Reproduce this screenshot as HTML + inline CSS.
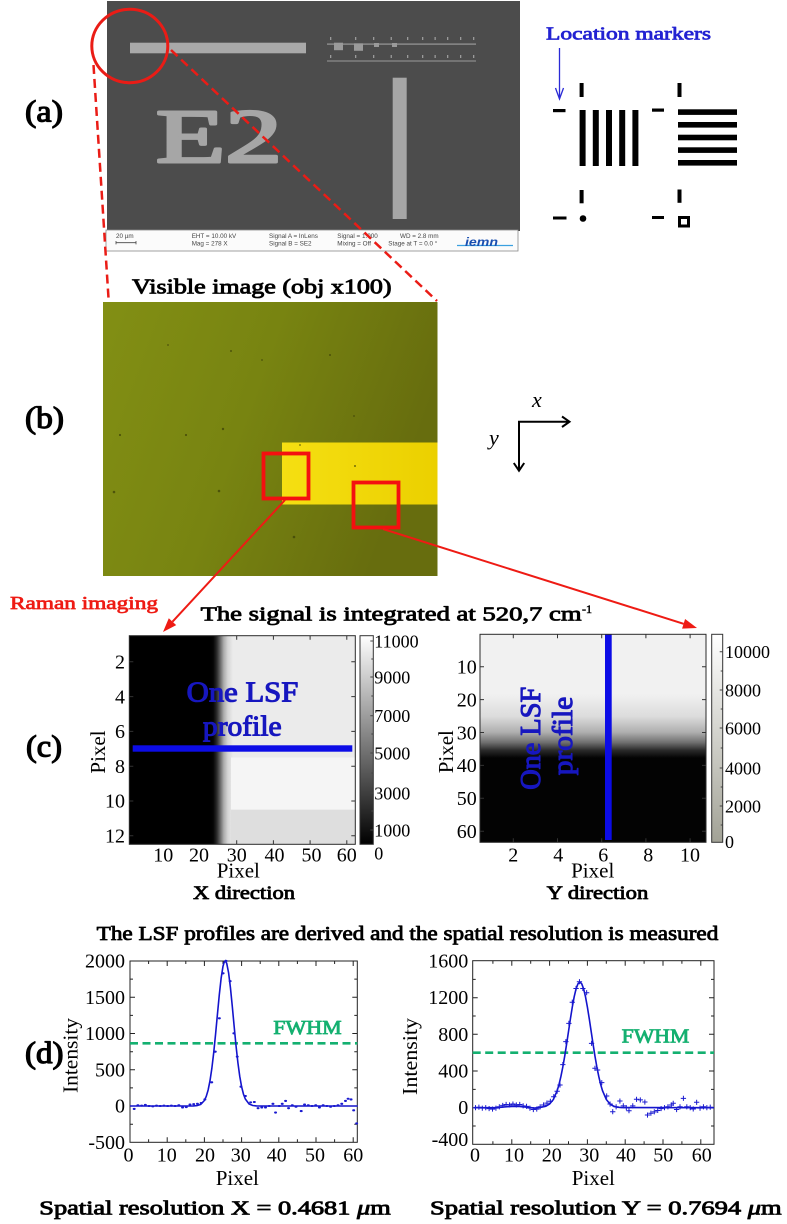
<!DOCTYPE html>
<html><head><meta charset="utf-8"><style>
html,body{margin:0;padding:0;background:#fff}
svg{display:block}
text{font-family:"Liberation Serif",serif}
.sem{font-family:"Liberation Sans",sans-serif;font-size:6.3px;fill:#444}
</style></head><body>
<svg width="787" height="1224" viewBox="0 0 787 1224" xmlns="http://www.w3.org/2000/svg">
<defs>
 <linearGradient id="olive" x1="0" y1="0" x2="1" y2="0.3">
  <stop offset="0" stop-color="#828f14"/>
  <stop offset="0.5" stop-color="#788411"/>
  <stop offset="1" stop-color="#676d0e"/>
 </linearGradient>
 <linearGradient id="yel" x1="0" y1="0" x2="1" y2="0">
  <stop offset="0" stop-color="#f5df12"/>
  <stop offset="1" stop-color="#ebd000"/>
 </linearGradient>
 <linearGradient id="gx" gradientUnits="userSpaceOnUse" x1="210" y1="0" x2="233" y2="0">
  <stop offset="0" stop-color="#000"/>
  <stop offset="0.15" stop-color="#060606"/>
  <stop offset="0.3" stop-color="#2c2c2c"/>
  <stop offset="0.45" stop-color="#6a6a6a"/>
  <stop offset="0.6" stop-color="#acacac"/>
  <stop offset="0.78" stop-color="#d6d6d6"/>
  <stop offset="1" stop-color="#ebebeb"/>
 </linearGradient>
 <linearGradient id="gy" gradientUnits="userSpaceOnUse" x1="0" y1="694" x2="0" y2="758">
  <stop offset="0" stop-color="#f1f1f1"/>
  <stop offset="0.35" stop-color="#dcdcdc"/>
  <stop offset="0.6" stop-color="#aeaeae"/>
  <stop offset="0.76" stop-color="#6e6e6e"/>
  <stop offset="0.88" stop-color="#2a2a2a"/>
  <stop offset="1" stop-color="#030303"/>
 </linearGradient>
 <linearGradient id="cb1" x1="0" y1="1" x2="0" y2="0">
  <stop offset="0" stop-color="#000"/>
  <stop offset="1" stop-color="#fff"/>
 </linearGradient>
 <linearGradient id="cb2" x1="0" y1="1" x2="0" y2="0">
  <stop offset="0" stop-color="#a2a296"/>
  <stop offset="1" stop-color="#ffffff"/>
 </linearGradient>
</defs>

<!-- ============ (a) SEM image ============ -->
<rect x="107" y="1" width="413" height="230" fill="#4c4c4c"/>
<rect x="130" y="42.7" width="176" height="10.6" fill="#a9a9a9"/>
<rect x="392.7" y="77.7" width="14" height="141.3" fill="#a6a6a6"/>
<text x="156" y="162" font-size="76" style="fill:#a6a6a6;stroke:#a6a6a6;stroke-width:3px;stroke-linejoin:round" textLength="126" lengthAdjust="spacingAndGlyphs">E2</text>
<!-- small pattern -->
<g fill="#9a9a9a">
 <rect x="334" y="42.7" width="9" height="7.5"/>
 <rect x="354" y="43.3" width="9" height="7.5"/>
 <rect x="374" y="43" width="5" height="4"/>
 <rect x="392" y="43" width="5" height="4"/>
 <rect x="327" y="43.5" width="149" height="1.2"/>
 <rect x="330" y="37" width="1.3" height="3"/><rect x="355" y="37" width="1.3" height="3"/><rect x="373" y="37" width="1.3" height="3"/><rect x="390.6" y="37" width="1.3" height="3"/><rect x="407" y="37" width="1.3" height="3"/><rect x="422" y="37" width="1.3" height="3"/><rect x="434.5" y="37" width="1.3" height="3"/><rect x="447" y="37" width="1.3" height="3"/><rect x="460" y="37" width="1.3" height="3"/><rect x="473" y="37" width="1.3" height="3"/>
 <rect x="330" y="55" width="1.3" height="3"/><rect x="355" y="55" width="1.3" height="3"/><rect x="373" y="55" width="1.3" height="3"/><rect x="390.6" y="55" width="1.3" height="3"/><rect x="407" y="55" width="1.3" height="3"/><rect x="422" y="55" width="1.3" height="3"/><rect x="434.5" y="55" width="1.3" height="3"/><rect x="447" y="55" width="1.3" height="3"/><rect x="460" y="55" width="1.3" height="3"/><rect x="473" y="55" width="1.3" height="3"/>
 <rect x="327" y="60.5" width="149" height="1"/>
</g>
<!-- info bar -->
<rect x="106" y="230" width="412" height="21" fill="#fbfbfb" stroke="#8a8a8a" stroke-width="0.8"/>
<text class="sem" x="116" y="238">20 µm</text>
<path d="M116 242.7H136M116 241v3.4M136 241v3.4" stroke="#444" stroke-width="0.8" fill="none"/>
<text class="sem" x="191.7" y="238">EHT = 10.00 kV</text>
<text class="sem" x="191.7" y="245.5">Mag =    278 X</text>
<text class="sem" x="269" y="238">Signal A = InLens</text>
<text class="sem" x="269" y="245.5">Signal B = SE2</text>
<text class="sem" x="337.3" y="238">Signal = 1.000</text>
<text class="sem" x="337.3" y="245.5">Mixing = Off</text>
<text class="sem" x="400" y="238">WD =  2.8 mm</text>
<text class="sem" x="388.3" y="245.5">Stage at T =   0.0 °</text>
<path d="M457 245.5H513" stroke="#3aa0e0" stroke-width="1.2"/>
<text x="465" y="246" font-size="12" font-style="italic" font-weight="bold" fill="#1a4fb0" textLength="33" lengthAdjust="spacingAndGlyphs" style="font-family:'Liberation Sans',sans-serif">iemn</text>

<!-- (a) label -->
<text x="25" y="121.5" font-size="31" style="fill:#000;stroke:#000;stroke-width:1.2px;stroke-linejoin:round" textLength="38" lengthAdjust="spacingAndGlyphs">(a)</text>

<!-- Location markers -->
<text x="546" y="39.5" font-size="18" style="fill:#2222d2;stroke:#2222d2;stroke-width:0.75px;stroke-linejoin:round" textLength="165" lengthAdjust="spacingAndGlyphs">Location markers</text>
<path d="M559.5 48V99M555.5 88L559.5 99L563.5 88" stroke="#2a2ad6" stroke-width="1.3" fill="none"/>
<g fill="#000">
 <rect x="579.6" y="83" width="4" height="14"/>
 <rect x="677.5" y="83" width="4" height="14"/>
 <rect x="553" y="109" width="12.5" height="3.2"/>
 <rect x="652" y="108.5" width="12" height="3.2"/>
 <rect x="579.6" y="110" width="6" height="56"/>
 <rect x="592.8" y="110" width="6" height="56"/>
 <rect x="606" y="110" width="6" height="56"/>
 <rect x="619.2" y="110" width="6" height="56"/>
 <rect x="632.4" y="110" width="6" height="56"/>
 <rect x="678" y="109.3" width="59" height="5.6"/>
 <rect x="678" y="122" width="59" height="5.6"/>
 <rect x="678" y="134.7" width="59" height="5.6"/>
 <rect x="678" y="147.3" width="59" height="5.6"/>
 <rect x="678" y="160" width="59" height="5.6"/>
 <rect x="579.6" y="190" width="4" height="13.3"/>
 <rect x="677.5" y="189.5" width="4" height="13.3"/>
 <rect x="553" y="216.5" width="13.5" height="3"/>
 <rect x="652" y="216" width="12" height="3"/>
 <circle cx="583" cy="218.5" r="3.3"/>
</g>
<rect x="679.5" y="217.5" width="9" height="8.5" fill="none" stroke="#000" stroke-width="3"/>

<!-- ============ (b) ============ -->
<text x="132" y="293.5" font-size="21" style="fill:#000;stroke:#000;stroke-width:0.85px;stroke-linejoin:round" textLength="259.6" lengthAdjust="spacingAndGlyphs">Visible image (obj x100)</text>
<text x="25" y="428" font-size="31" style="fill:#000;stroke:#000;stroke-width:1.2px;stroke-linejoin:round" textLength="39" lengthAdjust="spacingAndGlyphs">(b)</text>
<rect x="103" y="302" width="334.5" height="274" fill="url(#olive)"/>
<rect x="282" y="442.5" width="155.5" height="62" fill="url(#yel)"/>
<g fill="#3a3e08" opacity="0.7">
 <circle cx="223" cy="429" r="1.2"/><circle cx="186" cy="435" r="1.1"/><circle cx="219" cy="491" r="1.3"/>
 <circle cx="231" cy="351" r="1"/><circle cx="330" cy="355" r="1"/><circle cx="262" cy="360" r="0.9"/>
 <circle cx="294" cy="537" r="1.3"/><circle cx="168" cy="345" r="0.9"/><circle cx="354" cy="416" r="0.9"/>
 <circle cx="300" cy="445" r="0.9"/><circle cx="355" cy="466" r="1"/><circle cx="114" cy="492" r="1.3"/><circle cx="120" cy="435" r="1.1"/>
</g>
<rect x="263.5" y="453.5" width="45" height="45" fill="none" stroke="#f41010" stroke-width="3.8"/>
<rect x="353.5" y="482.5" width="45" height="45" fill="none" stroke="#f41010" stroke-width="3.8"/>
<!-- red arrows -->
<path d="M285 500L172.5 621.7" stroke="#ee1b14" stroke-width="2"/>
<polygon points="163,632 176.2,625.1 168.8,618.3" fill="#ee1b14"/>
<path d="M383 529L683.6 623.8" stroke="#ee1b14" stroke-width="2"/>
<polygon points="697,628 682.1,628.6 685.1,619" fill="#ee1b14"/>

<!-- axes glyph -->
<path d="M569.5 421.7H519V470.7M562 416.5L569.5 421.7L562 427M513.8 463L519 470.7L524.2 463" stroke="#000" stroke-width="2" fill="none"/>
<text x="532" y="407" font-size="22" font-style="italic">x</text>
<text x="489" y="445" font-size="22" font-style="italic">y</text>

<!-- red ellipse & dashed lines -->
<ellipse cx="129.8" cy="46" rx="38" ry="36.7" fill="none" stroke="#ea1c16" stroke-width="3"/>
<path d="M93.5 65L108.5 298" stroke="#ea1c16" stroke-width="2.5" stroke-dasharray="9 5" fill="none"/>
<path d="M171 50L437 301" stroke="#ea1c16" stroke-width="2.5" stroke-dasharray="9 5" fill="none"/>

<!-- ============ (c) ============ -->
<text x="10" y="609" font-size="18" style="fill:#ee1b14;stroke:#ee1b14;stroke-width:0.7px;stroke-linejoin:round" textLength="148" lengthAdjust="spacingAndGlyphs">Raman imaging</text>
<text x="200.6" y="620.7" font-size="20" style="fill:#000;stroke:#000;stroke-width:0.8px;stroke-linejoin:round" textLength="381" lengthAdjust="spacingAndGlyphs">The signal is integrated at 520,7 cm</text>
<text x="582" y="613" font-size="12" style="fill:#000;stroke:#000;stroke-width:0.5px">-1</text>
<text x="26" y="756.5" font-size="31" style="fill:#000;stroke:#000;stroke-width:1.2px;stroke-linejoin:round" textLength="36" lengthAdjust="spacingAndGlyphs">(c)</text>

<!-- left heatmap -->
<rect x="129.3" y="635.7" width="226" height="208.6" fill="#000"/>
<rect x="210" y="635.7" width="145.3" height="208.6" fill="url(#gx)"/>
<rect x="231" y="757.5" width="124.3" height="52.2" fill="#f5f5f5"/>
<rect x="231" y="809.7" width="124.3" height="34.6" fill="#dedede"/>
<rect x="132.7" y="745.3" width="219.6" height="6.4" fill="#0c0ce6"/>
<text x="242.5" y="701.5" font-size="28" style="fill:#1717bf;stroke:#1717bf;stroke-width:1.1px;stroke-linejoin:round" text-anchor="middle" textLength="111.6" lengthAdjust="spacingAndGlyphs">One LSF</text>
<text x="242.3" y="735.7" font-size="28" style="fill:#1717bf;stroke:#1717bf;stroke-width:1.1px;stroke-linejoin:round" text-anchor="middle" textLength="78.7" lengthAdjust="spacingAndGlyphs">profile</text>
<rect x="129.3" y="635.7" width="226" height="208.6" fill="none" stroke="#2a2a2a" stroke-width="1"/>
<path d="M129.3 661.8h4M129.3 696.6h4M129.3 731.4h4M129.3 766.2h4M129.3 801h4M129.3 835.8h4M355.3 661.8h-4M355.3 696.6h-4M355.3 731.4h-4M355.3 766.2h-4M355.3 801h-4M355.3 835.8h-4M236.7 844.3v-4M273.4 844.3v-4M310.1 844.3v-4M346.8 844.3v-4M236.7 635.7v4M273.4 635.7v4M310.1 635.7v4M346.8 635.7v4" stroke="#333" stroke-width="1"/>
<g font-size="20" text-anchor="end">
 <text x="125" y="668.5">2</text><text x="125" y="703.3">4</text><text x="125" y="738.1">6</text><text x="125" y="772.9">8</text><text x="125" y="807.7">10</text><text x="125" y="842.5">12</text>
</g>
<g font-size="20" text-anchor="middle">
 <text x="163.3" y="861.7">10</text><text x="199" y="861.7">20</text><text x="236.7" y="861.7">30</text><text x="274.5" y="861.7">40</text><text x="311.5" y="861.7">50</text><text x="346.8" y="861.7">60</text>
</g>
<text x="238.3" y="877.5" font-size="21" text-anchor="middle">Pixel</text>
<text transform="translate(105 752) rotate(-90)" font-size="21" text-anchor="middle">Pixel</text>
<text x="244" y="899" font-size="19" style="fill:#000;stroke:#000;stroke-width:0.8px;stroke-linejoin:round" text-anchor="middle" textLength="102" lengthAdjust="spacingAndGlyphs">X direction</text>
<!-- left colorbar -->
<rect x="360" y="635.7" width="13.3" height="208.6" fill="url(#cb1)" stroke="#333" stroke-width="1"/>
<path d="M373.3 641h-3M373.3 677h-3M373.3 715.7h-3M373.3 753h-3M373.3 793h-3M373.3 830h-3M373.3 659h-2M373.3 696h-2M373.3 734h-2M373.3 773h-2M373.3 811h-2" stroke="#444" stroke-width="1"/>
<g font-size="18">
 <text x="374.3" y="647.3">11000</text><text x="374.3" y="683.3">9000</text><text x="374.3" y="722">7000</text><text x="374.3" y="759.3">5000</text><text x="374.3" y="799.3">3000</text><text x="374.3" y="836.3">1000</text><text x="374.3" y="859.3">0</text>
</g>

<!-- right heatmap -->
<rect x="480" y="634.3" width="226" height="208" fill="url(#gy)"/>
<rect x="605" y="634.3" width="6.7" height="205.7" fill="#0c0ce6"/>
<text transform="translate(540 738.3) rotate(-90)" font-size="28" style="fill:#1717bf;stroke:#1717bf;stroke-width:1.1px;stroke-linejoin:round" text-anchor="middle" textLength="103" lengthAdjust="spacingAndGlyphs">One LSF</text>
<text transform="translate(572 736) rotate(-90)" font-size="28" style="fill:#1717bf;stroke:#1717bf;stroke-width:1.1px;stroke-linejoin:round" text-anchor="middle" textLength="78.5" lengthAdjust="spacingAndGlyphs">profile</text>
<rect x="480" y="634.3" width="226" height="208" fill="none" stroke="#2a2a2a" stroke-width="1"/>
<path d="M480 666.7h4M480 699.6h4M480 732.5h4M480 765.4h4M480 798.3h4M480 831.2h4M706 666.7h-4M706 699.6h-4M706 732.5h-4M706 765.4h-4M706 798.3h-4M706 831.2h-4M513.3 634.3v4M557.5 634.3v4M601.7 634.3v4M645.9 634.3v4M690.1 634.3v4M513.3 842.3v-4M557.5 842.3v-4M601.7 842.3v-4M645.9 842.3v-4M690.1 842.3v-4" stroke="#333" stroke-width="1"/>
<g font-size="20" text-anchor="end">
 <text x="476.7" y="673.5">10</text><text x="476.7" y="706.4">20</text><text x="476.7" y="739.3">30</text><text x="476.7" y="772.2">40</text><text x="476.7" y="805.1">50</text><text x="476.7" y="838">60</text>
</g>
<g font-size="20" text-anchor="middle">
 <text x="513.3" y="861.7">2</text><text x="558.3" y="861.7">4</text><text x="603.3" y="861.7">6</text><text x="648.3" y="861.7">8</text><text x="690" y="861.7">10</text>
</g>
<text x="592.7" y="877.5" font-size="21" text-anchor="middle">Pixel</text>
<text transform="translate(453 751.7) rotate(-90)" font-size="21" text-anchor="middle">Pixel</text>
<text x="597.5" y="899" font-size="19" style="fill:#000;stroke:#000;stroke-width:0.8px;stroke-linejoin:round" text-anchor="middle" textLength="101.6" lengthAdjust="spacingAndGlyphs">Y direction</text>
<!-- right colorbar -->
<rect x="711.7" y="634.3" width="11" height="208" fill="url(#cb2)" stroke="#333" stroke-width="1"/>
<path d="M722.7 651.7h-3M722.7 690h-3M722.7 728h-3M722.7 768h-3M722.7 806h-3M722.7 671h-2M722.7 709h-2M722.7 748h-2M722.7 787h-2M722.7 825h-2" stroke="#444" stroke-width="1"/>
<g font-size="18">
 <text x="725" y="658">10000</text><text x="725" y="696.3">8000</text><text x="725" y="734.3">6000</text><text x="725" y="774.3">4000</text><text x="725" y="812.3">2000</text><text x="725" y="848">0</text>
</g>

<!-- ============ (d) ============ -->
<text x="96.7" y="940" font-size="19.5" style="fill:#000;stroke:#000;stroke-width:0.8px;stroke-linejoin:round" textLength="621.6" lengthAdjust="spacingAndGlyphs">The LSF profiles are derived and the spatial resolution is measured</text>
<text x="25" y="1063" font-size="31" style="fill:#000;stroke:#000;stroke-width:1.2px;stroke-linejoin:round" textLength="38.5" lengthAdjust="spacingAndGlyphs">(d)</text>

<!-- left LSF plot -->
<rect x="130" y="961" width="227.3" height="181.3" fill="#fff" stroke="#222" stroke-width="1"/>
<path d="M130 997.3h5M130 1033.5h5M130 1069.8h5M130 1106h5M130 979.1h3M130 1015.4h3M130 1051.7h3M130 1087.9h3M130 1124.2h3M357.3 997.3h-5M357.3 1033.5h-5M357.3 1069.8h-5M357.3 1106h-5M357.3 979.1h-3M357.3 1015.4h-3M357.3 1051.7h-3M357.3 1087.9h-3M357.3 1124.2h-3M167.2 1142.3v-5M204.4 1142.3v-5M241.6 1142.3v-5M278.8 1142.3v-5M316 1142.3v-5M353.2 1142.3v-5M148.6 1142.3v-3M185.8 1142.3v-3M223 1142.3v-3M260.2 1142.3v-3M297.4 1142.3v-3M334.6 1142.3v-3M167.2 961v5M204.4 961v5M241.6 961v5M278.8 961v5M316 961v5M353.2 961v5M148.6 961v3M185.8 961v3M223 961v3M260.2 961v3M297.4 961v3M334.6 961v3" stroke="#222" stroke-width="1"/>
<path d="M130 1043.3H357.3" stroke="#14b070" stroke-width="2.6" stroke-dasharray="8 4.5"/>
<g transform="translate(130 1106) scale(3.72 -0.07253)">
 <polyline vector-effect="non-scaling-stroke" fill="none" stroke="#1414cc" stroke-width="1.6" points="0,0 17,1 18,5 19,21 20,76 20.5,133 21,220 21.5,347 22,518 22.5,734 23,988 23.5,1263 24,1531 24.5,1763 25,1926 25.3,1980 25.6,2000 26,1967 26.5,1838 27,1630 27.5,1373 28,1097 28.5,832 29,599 29.5,410 30,266 30.5,164 31,96 32,28 33,7 34,1 61.2,0"/>
 <path vector-effect="non-scaling-stroke" fill="none" stroke="#1a1ad0" stroke-width="2.1" stroke-linecap="round" d="M1 -40h.25M2 10h.25M3 5h.25M4 15h.25M5 0h.25M6 -5h.25M7 5h.25M8 0h.25M9 5h.25M10 0h.25M11 5h.25M12 0h.25M13 10h.25M14 -20h.25M15 -15h.25M16 20h.25M17 25h.25M18 30h.25M19 40h.25M20 90h.25M21.85 327h.25M22.8 749h.25M23.9 1209h.25M24.9 1830h.25M25.7 2000h.25M26.8 1721h.25M27.8 1002h.25M28.7 680h.25M29.7 266h.25M30.9 138h.25M32.3 50h.25M33.3 55h.25M34.3 -30h.25M35.3 -20h.25M36.3 -20h.25M37.3 0h.25M38.3 30h.25M39 -90h.25M40 0h.25M40.8 30h.25M41.7 70h.25M42.5 -30h.25M43.5 10h.25M44.5 -10h.25M45.9 -70h.25M46.8 20h.25M47.8 10h.25M48.8 0h.25M49.8 10h.25M50.8 -20h.25M51.8 10h.25M52.8 0h.25M53.8 -10h.25M54.8 0h.25M55.8 10h.25M56.8 30h.25M57.8 70h.25M58.5 100h.25M59.3 90h.25M60 -60h.25M60.8 -240h.25"/>
</g>
<text x="273.3" y="1034" font-size="19.5" style="fill:#14b070;stroke:#14b070;stroke-width:0.8px;stroke-linejoin:round" textLength="68.4" lengthAdjust="spacingAndGlyphs">FWHM</text>
<g font-size="20" text-anchor="end">
 <text x="125" y="967.7">2000</text><text x="125" y="1004">1500</text><text x="125" y="1040.2">1000</text><text x="125" y="1076.5">500</text><text x="125" y="1112.7">0</text><text x="125" y="1149">-500</text>
</g>
<g font-size="20" text-anchor="middle">
 <text x="128.5" y="1161.7">0</text><text x="166.7" y="1161.7">10</text><text x="205" y="1161.7">20</text><text x="240.7" y="1161.7">30</text><text x="276.7" y="1161.7">40</text><text x="315" y="1161.7">50</text><text x="353.3" y="1161.7">60</text>
</g>
<text x="237.3" y="1185" font-size="21" text-anchor="middle">Pixel</text>
<text transform="translate(77.3 1055.5) rotate(-90)" font-size="21" text-anchor="middle" textLength="75" lengthAdjust="spacingAndGlyphs">Intensity</text>
<text x="39.3" y="1214.5" font-size="20.5" style="fill:#000;stroke:#000;stroke-width:0.85px;stroke-linejoin:round" textLength="351.4" lengthAdjust="spacingAndGlyphs">Spatial resolution X = 0.4681 <tspan font-style="italic">μ</tspan>m</text>

<!-- right LSF plot -->
<rect x="472.7" y="960.7" width="241.3" height="183.6" fill="#fff" stroke="#222" stroke-width="1"/>
<path d="M472.7 997.7h5M472.7 1034.3h5M472.7 1071h5M472.7 1107.7h5M472.7 979.4h3M472.7 1016h3M472.7 1052.7h3M472.7 1089.4h3M472.7 1126h3M714 997.7h-5M714 1034.3h-5M714 1071h-5M714 1107.7h-5M714 979.4h-3M714 1016h-3M714 1052.7h-3M714 1089.4h-3M714 1126h-3M511.8 1144.3v-5M549.6 1144.3v-5M587.4 1144.3v-5M625.2 1144.3v-5M663 1144.3v-5M700.8 1144.3v-5M492.9 1144.3v-3M530.7 1144.3v-3M568.5 1144.3v-3M606.3 1144.3v-3M644.1 1144.3v-3M681.9 1144.3v-3M511.8 960.7v5M549.6 960.7v5M587.4 960.7v5M625.2 960.7v5M663 960.7v5M700.8 960.7v5M492.9 960.7v3M530.7 960.7v3M568.5 960.7v3M606.3 960.7v3M644.1 960.7v3M681.9 960.7v3" stroke="#222" stroke-width="1"/>
<path d="M472.7 1052.7H714" stroke="#14b070" stroke-width="2.6" stroke-dasharray="8 4.5"/>
<g transform="translate(474 1107.7) scale(3.78 -0.0917)">
 <polyline vector-effect="non-scaling-stroke" fill="none" stroke="#1414cc" stroke-width="1.6" points="0,0 6,0 8,8 10,14 12,14 14,6 16,-4 17,0 18,7 19,16 20,40 21,90 22,185 22.5,255 23,342 23.5,445 24,563 24.5,694 25,831 25.5,968 26,1097 26.5,1209 27,1296 27.5,1351 28,1370 28.5,1351 29,1296 29.5,1209 30,1097 30.5,968 31,831 31.5,694 32,563 32.5,445 33,342 33.5,255 34,185 35,90 36,39 37,15 38,5 39,2 63.5,0"/>
 <path vector-effect="non-scaling-stroke" fill="none" stroke="#1a1ad0" stroke-width="1" d="M-0.3 0h1.4M0.4 -28v56M0.6 5h1.4M1.3 -23v56M1.5 -5h1.4M2.2 -33v56M2.4 0h1.4M3.1 -28v56M3.3 -10h1.4M4 -38v56M4.2 -15h1.4M4.9 -43v56M5.1 -5h1.4M5.8 -33v56M6 10h1.4M6.7 -18v56M6.9 25h1.4M7.6 -3v56M7.8 35h1.4M8.5 7v56M8.7 30h1.4M9.4 2v56M9.6 40h1.4M10.3 12v56M10.5 30h1.4M11.2 2v56M11.4 35h1.4M12.1 7v56M12.3 20h1.4M13 -8v56M13.2 15h1.4M13.9 -13v56M14.1 -5h1.4M14.8 -33v56M15 -20h1.4M15.7 -48v56M15.9 -15h1.4M16.6 -43v56M16.8 10h1.4M17.5 -18v56M17.7 30h1.4M18.4 2v56M18.6 50h1.4M19.3 22v56M19.5 70h1.4M20.2 42v56M20.4 120h1.4M21.1 92v56M21.3 180h1.4M22 152v56M22.05 247h1.4M22.75 219v56M22.8 470h1.4M23.5 442v56M23.6 720h1.4M24.3 692v56M24.4 920h1.4M25.1 892v56M25.3 1150h1.4M26 1122v56M26.3 1300h1.4M27 1272v56M27.2 1374h1.4M27.9 1346v56M28.1 1300h1.4M28.8 1272v56M29.1 1254h1.4M29.8 1226v56M30.4 702h1.4M31.1 674v56M31.3 430h1.4M32 402v56M32 411h1.4M32.7 383v56M33.1 273h1.4M33.8 245v56M34.4 128h1.4M35.1 100v56M35.3 40h1.4M36 12v56M36 -44h1.4M36.7 -72v56M36.9 10h1.4M37.6 -18v56M37.9 73h1.4M38.6 45v56M38.8 20h1.4M39.5 -8v56M39.6 0h1.4M40.3 -28v56M40.3 -33h1.4M41 -61v56M41.3 20h1.4M42 -8v56M42.3 92h1.4M43 64v56M43.3 85h1.4M44 57v56M44.5 62h1.4M45.2 34v56M45.2 -80h1.4M45.9 -108v56M46.1 -60h1.4M46.8 -88v56M47 -45h1.4M47.7 -73v56M47.9 -30h1.4M48.6 -58v56M48.8 -10h1.4M49.5 -38v56M49.7 0h1.4M50.4 -28v56M50.6 10h1.4M51.3 -18v56M51.5 30h1.4M52.2 2v56M52 48h1.4M52.7 20v56M52.9 -20h1.4M53.6 -48v56M53.8 10h1.4M54.5 -18v56M54.7 102h1.4M55.4 74v56M55.6 10h1.4M56.3 -18v56M56.5 0h1.4M57.2 -28v56M57.3 -14h1.4M58 -42v56M58.2 59h1.4M58.9 31v56M59.1 -5h1.4M59.8 -33v56M60 10h1.4M60.7 -18v56M60.9 0h1.4M61.6 -28v56M61.8 5h1.4M62.5 -23v56"/>
</g>
<text x="621.7" y="1042.7" font-size="19.5" style="fill:#14b070;stroke:#14b070;stroke-width:0.8px;stroke-linejoin:round" textLength="67.6" lengthAdjust="spacingAndGlyphs">FWHM</text>
<g font-size="20" text-anchor="end">
 <text x="468.3" y="967.7">1600</text><text x="468.3" y="1004">1200</text><text x="468.3" y="1041">800</text><text x="468.3" y="1077.7">400</text><text x="468.3" y="1114">0</text><text x="468.3" y="1146.2">-400</text>
</g>
<g font-size="20" text-anchor="middle">
 <text x="475" y="1161.7">0</text><text x="514" y="1161.7">10</text><text x="551.7" y="1161.7">20</text><text x="589.3" y="1161.7">30</text><text x="626" y="1161.7">40</text><text x="663.3" y="1161.7">50</text><text x="701.7" y="1161.7">60</text>
</g>
<text x="593.3" y="1185" font-size="21" text-anchor="middle">Pixel</text>
<text transform="translate(417 1056.5) rotate(-90)" font-size="21" text-anchor="middle" textLength="77" lengthAdjust="spacingAndGlyphs">Intensity</text>
<text x="430" y="1214.5" font-size="20.5" style="fill:#000;stroke:#000;stroke-width:0.85px;stroke-linejoin:round" textLength="351.7" lengthAdjust="spacingAndGlyphs">Spatial resolution Y = 0.7694 <tspan font-style="italic">μ</tspan>m</text>
</svg>
</body></html>
